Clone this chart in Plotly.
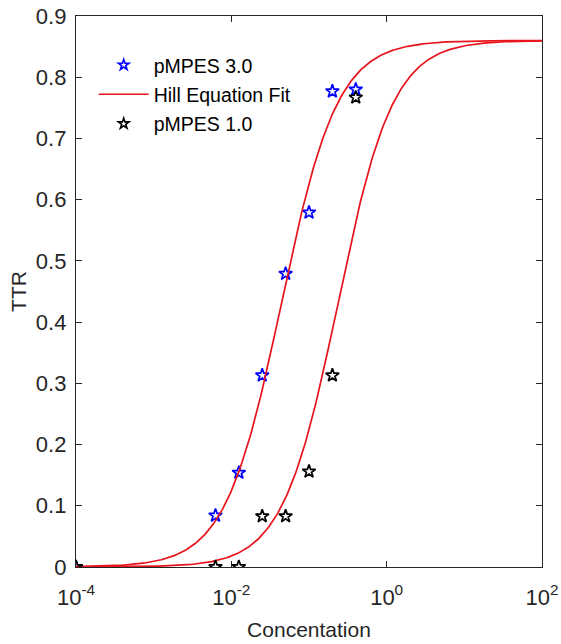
import numpy as np
import plotly.graph_objects as go

conc = [1e-4, 0.00625, 0.0125, 0.025, 0.05, 0.1, 0.2, 0.4]
ttr_30 = [0.0, 0.084, 0.154, 0.313, 0.479, 0.579, 0.777, 0.780]
ttr_10 = [0.0, 0.0, 0.0, 0.083, 0.083, 0.156, 0.313, 0.767]

# Hill equation fit parameters: top, K, n
hill_top = 0.86
hill_k = [0.044, 0.235]
hill_n = [1.2, 1.22]

xtick_vals = [1e-4, 1e-2, 1e0, 1e2]
xtick_text = ["10<sup>-4</sup>", "10<sup>-2</sup>", "10<sup>0</sup>", "10<sup>2</sup>"]
ytick_vals = [0, 0.1, 0.2, 0.3, 0.4, 0.5, 0.6, 0.7, 0.8, 0.9]
ytick_text = ["0", "0.1", "0.2", "0.3", "0.4", "0.5", "0.6", "0.7", "0.8", "0.9"]

BLUE = "#0000ff"
RED = "#e8141c"
BLACK = "#000000"

xf = np.logspace(-4, 2, 400)

def hill(x, k, n):
    return hill_top * x**n / (k**n + x**n)

fig = go.Figure()
# data traces (not in legend)
fig.add_trace(go.Scatter(x=conc, y=ttr_30, mode="markers", showlegend=False,
                         marker=dict(symbol="star-open", size=10, color=BLUE,
                                     line=dict(width=1.7, color=BLUE))))
for i in range(2):
    fig.add_trace(go.Scatter(x=xf, y=hill(xf, hill_k[i], hill_n[i]), mode="lines",
                             showlegend=False, line=dict(color=RED, width=1.7)))
fig.add_trace(go.Scatter(x=conc, y=ttr_10, mode="markers", showlegend=False,
                         marker=dict(symbol="star-open", size=10, color=BLACK,
                                     line=dict(width=1.7, color=BLACK))))
# legend entries
fig.add_trace(go.Scatter(x=[None], y=[None], mode="markers", name="pMPES 3.0",
                         legendgroup="a",
                         marker=dict(symbol="star-open", size=8, color=BLUE,
                                     line=dict(width=1.6, color=BLUE))))
fig.add_trace(go.Scatter(x=[None], y=[None], mode="lines", name="Hill Equation Fit",
                         legendgroup="b", line=dict(color=RED, width=1.6)))
fig.add_trace(go.Scatter(x=[None], y=[None], mode="markers", name="pMPES 1.0",
                         legendgroup="c",
                         marker=dict(symbol="star-open", size=8, color=BLACK,
                                     line=dict(width=1.6, color=BLACK))))

axis_common = dict(showline=True, linecolor="#262626", linewidth=1.3, mirror="ticks",
                   ticks="inside", ticklen=6, tickcolor="#262626", showgrid=False,
                   zeroline=False, automargin=False,
                   tickfont=dict(size=22, color="#262626"))

fig.update_layout(
    width=561, height=644,
    margin=dict(l=76, r=19, t=16, b=77),
    paper_bgcolor="white", plot_bgcolor="white",
    font=dict(family="Liberation Sans, Arial, sans-serif", color="#262626"),
    xaxis=dict(type="log", range=[-4, 2], tickvals=xtick_vals, ticktext=xtick_text,
               ticklabelstandoff=10,
               title=dict(text="Concentation", font=dict(size=21), standoff=13),
               **axis_common),
    yaxis=dict(range=[0, 0.9], tickvals=ytick_vals, ticktext=ytick_text,
               ticklabelstandoff=4,
               title=dict(text="TTR", font=dict(size=21), standoff=3),
               **axis_common),
    legend=dict(x=0.038, y=0.946, xanchor="left", yanchor="top",
                bgcolor="rgba(0,0,0,0)", font=dict(size=19.5, color="#000000"),
                itemwidth=50, traceorder="grouped", tracegroupgap=1),
    showlegend=True,
)

fig.write_html("out.html")
